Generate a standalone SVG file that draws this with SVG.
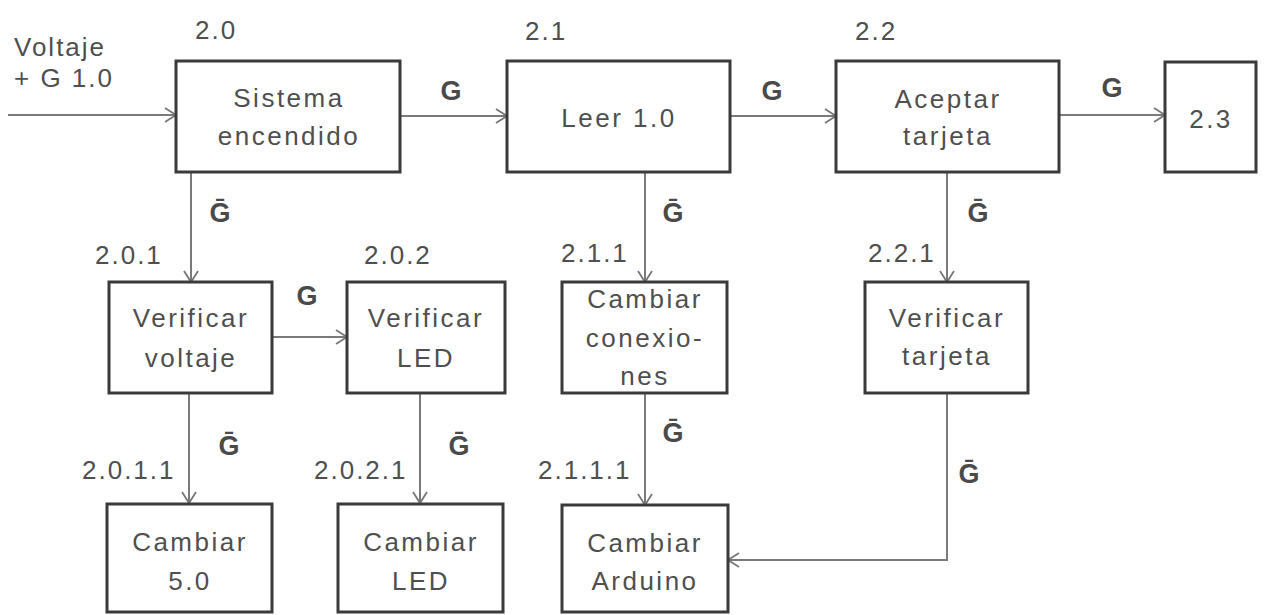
<svg xmlns="http://www.w3.org/2000/svg" width="1264" height="615" viewBox="0 0 1264 615">
<defs>
<marker id="arr" markerWidth="14" markerHeight="16" refX="12" refY="8" orient="auto" markerUnits="userSpaceOnUse">
<path d="M1,1 L12,8 L1,15" fill="none" stroke="#777" stroke-width="1.8"/>
</marker>
<style>
.box{fill:#fff;stroke:#3a3a3a;stroke-width:3}
.t{font-family:"Liberation Sans",Arial,sans-serif;font-size:26px;fill:#4f4f4f;text-anchor:middle;letter-spacing:2.5px}
.n{font-family:"Liberation Sans",Arial,sans-serif;font-size:26px;fill:#4f4f4f;letter-spacing:2px}
.g{font-family:"Liberation Sans","DejaVu Sans",Arial,sans-serif;font-size:27px;font-weight:bold;fill:#4a4a4a;text-anchor:middle}
.c{fill:none;stroke:#7a7a7a;stroke-width:2}
</style>
</defs>
<rect width="1264" height="615" fill="#fff"/>
<g id="connectors">
<line class="c" x1="8" y1="115" x2="176" y2="115" marker-end="url(#arr)"/>
<line class="c" x1="400" y1="116" x2="507" y2="116" marker-end="url(#arr)"/>
<line class="c" x1="730" y1="116" x2="836" y2="116" marker-end="url(#arr)"/>
<line class="c" x1="1059" y1="115" x2="1165" y2="115" marker-end="url(#arr)"/>
<line class="c" x1="191" y1="172" x2="191" y2="282" marker-end="url(#arr)"/>
<line class="c" x1="645" y1="172" x2="645" y2="282" marker-end="url(#arr)"/>
<line class="c" x1="947" y1="172" x2="947" y2="282" marker-end="url(#arr)"/>
<line class="c" x1="272" y1="337" x2="347" y2="337" marker-end="url(#arr)"/>
<line class="c" x1="189" y1="393" x2="189" y2="503" marker-end="url(#arr)"/>
<line class="c" x1="420" y1="393" x2="420" y2="503" marker-end="url(#arr)"/>
<line class="c" x1="645" y1="393" x2="645" y2="505" marker-end="url(#arr)"/>
<polyline class="c" points="947,393 947,560 728,560" marker-end="url(#arr)"/>
<text class="g" x="451" y="100">G</text>
<text class="g" x="772" y="100">G</text>
<text class="g" x="1112" y="97">G</text>
<text class="g" x="307" y="305">G</text>
<text class="g" x="220" y="222">Ḡ</text>
<text class="g" x="673" y="222">Ḡ</text>
<text class="g" x="978" y="222">Ḡ</text>
<text class="g" x="229" y="455">Ḡ</text>
<text class="g" x="459" y="455">Ḡ</text>
<text class="g" x="673" y="442">Ḡ</text>
<text class="g" x="969" y="483">Ḡ</text>
</g>
<g id="input">
<text class="n" x="14" y="56">Voltaje</text>
<text class="n" x="14" y="87">+ G 1.0</text>
</g>
<g id="n2_0">
<text class="n" x="195" y="39">2.0</text>
<rect class="box" x="176" y="61" width="224" height="111"/>
<text class="t" x="289" y="107">Sistema</text>
<text class="t" x="289" y="145">encendido</text>
</g>
<g id="n2_1">
<text class="n" x="525" y="40">2.1</text>
<rect class="box" x="507" y="61" width="223" height="111"/>
<text class="t" x="619" y="127">Leer 1.0</text>
</g>
<g id="n2_2">
<text class="n" x="855" y="40">2.2</text>
<rect class="box" x="836" y="61" width="223" height="111"/>
<text class="t" x="948" y="108">Aceptar</text>
<text class="t" x="948" y="145">tarjeta</text>
</g>
<g id="n2_3">
<rect class="box" x="1165" y="62" width="91" height="110"/>
<text class="t" x="1211" y="128">2.3</text>
</g>
<g id="n2_0_1">
<text class="n" x="95" y="264">2.0.1</text>
<rect class="box" x="109" y="282" width="163" height="111"/>
<text class="t" x="191" y="327">Verificar</text>
<text class="t" x="191" y="367">voltaje</text>
</g>
<g id="n2_0_2">
<text class="n" x="364" y="264">2.0.2</text>
<rect class="box" x="347" y="282" width="158" height="111"/>
<text class="t" x="426" y="327">Verificar</text>
<text class="t" x="426" y="367">LED</text>
</g>
<g id="n2_1_1">
<text class="n" x="561" y="262">2.1.1</text>
<rect class="box" x="562" y="282" width="165" height="111"/>
<text class="t" x="645" y="308">Cambiar</text>
<text class="t" x="645" y="347">conexio-</text>
<text class="t" x="645" y="385">nes</text>
</g>
<g id="n2_2_1">
<text class="n" x="868" y="262">2.2.1</text>
<rect class="box" x="865" y="282" width="163" height="111"/>
<text class="t" x="947" y="327">Verificar</text>
<text class="t" x="947" y="365">tarjeta</text>
</g>
<g id="n2_0_1_1">
<text class="n" x="82" y="479">2.0.1.1</text>
<rect class="box" x="107" y="504" width="165" height="108"/>
<text class="t" x="190" y="551">Cambiar</text>
<text class="t" x="190" y="590">5.0</text>
</g>
<g id="n2_0_2_1">
<text class="n" x="314" y="479">2.0.2.1</text>
<rect class="box" x="338" y="504" width="165" height="108"/>
<text class="t" x="421" y="551">Cambiar</text>
<text class="t" x="421" y="590">LED</text>
</g>
<g id="n2_1_1_1">
<text class="n" x="538" y="479">2.1.1.1</text>
<rect class="box" x="562" y="505" width="166" height="107"/>
<text class="t" x="645" y="552">Cambiar</text>
<text class="t" x="645" y="590">Arduino</text>
</g>
</svg>
